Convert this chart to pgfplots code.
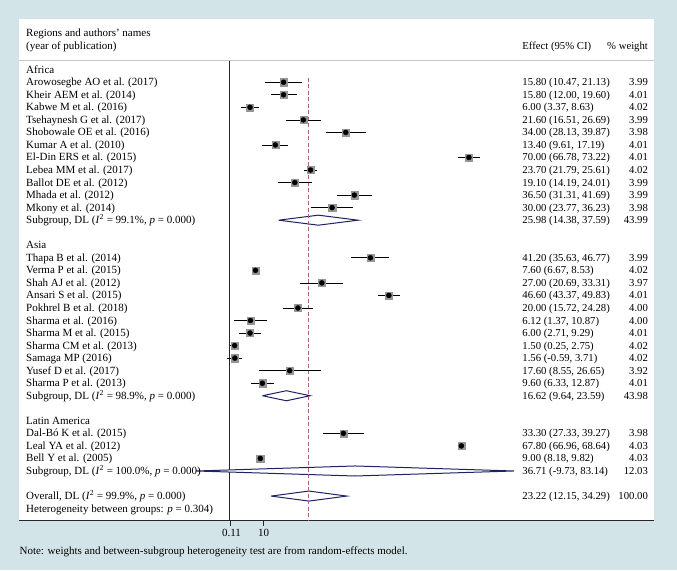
\documentclass[border=0pt]{standalone}
\usepackage{pgfplots}
\usepackage{pgfplotstable}
\pgfplotsset{compat=1.18}
\usepackage{fontspec}
\setmainfont{Liberation Serif}

\definecolor{bgblue}{RGB}{211,228,232}
\definecolor{navy}{RGB}{30,35,100}
\definecolor{dashred}{RGB}{172,100,112}
\definecolor{sqgray}{RGB}{150,150,150}

% row est lo hi
\pgfplotstableread{
row est lo hi
1 15.80 10.47 21.13
2 15.80 12.00 19.60
3 6.00 3.37 8.63
4 21.60 16.51 26.69
5 34.00 28.13 39.87
6 13.40 9.61 17.19
7 70.00 66.78 73.22
8 23.70 21.79 25.61
9 19.10 14.19 24.01
10 36.50 31.31 41.69
11 30.00 23.77 36.23
15 41.20 35.63 46.77
16 7.60 6.67 8.53
17 27.00 20.69 33.31
18 46.60 43.37 49.83
19 20.00 15.72 24.28
20 6.12 1.37 10.87
21 6.00 2.71 9.29
22 1.50 0.25 2.75
23 1.56 -0.59 3.71
24 17.60 8.55 26.65
25 9.60 6.33 12.87
29 33.30 27.33 39.27
30 67.80 66.96 68.64
31 9.00 8.18 9.82
}\studies

\newcommand\study[4]{%
  \node[lab] at (axis cs:-59.5,#1) {#2};
  \node[num] at (axis cs:85.6,#1) {#3};
  \node[wt] at (axis cs:122.4,#1) {#4};}

\begin{document}
\begin{tikzpicture}[
  txt/.style={inner sep=0pt, yshift=-3.5pt, font=\fontsize{11}{13}\selectfont},
  lab/.style={txt, anchor=base west},
  num/.style={txt, anchor=base west, font=\fontsize{10.7}{13}\selectfont},
  wt/.style={txt, anchor=base east, font=\fontsize{10.7}{13}\selectfont},
]
\begin{axis}[
  width=677pt, height=570pt, scale only axis,
  xmin=-67.105, xmax=130.848, ymin=-5.558, ymax=39.896,
  y dir=reverse, hide axis, clip=false,
]
\fill[bgblue] (axis cs:-67.105,-5.558) rectangle (axis cs:130.848,39.896);
\fill[white] (axis cs:-61.43,-4.02) rectangle (axis cs:124.12,35.965);

% header
\node[lab] at (axis cs:-59.5,-2.93) {Regions and authors' names};
\node[lab] at (axis cs:-59.5,-1.91) {(year of publication)};
\node[num] at (axis cs:85.6,-1.91) {Effect (95\% CI)};
\node[wt] at (axis cs:122.4,-1.91) {\% weight};
\draw[black!22, line width=1.6pt] (axis cs:-61.43,-0.718) -- (axis cs:124.12,-0.718);
\draw[black!85, line width=1pt] (axis cs:-61.43,35.965) -- (axis cs:124.12,35.965);
\draw[black!85, line width=0.8pt] (axis cs:0,-0.718) -- (axis cs:0,35.965);

% subgroup and overall diamonds
\addplot[navy, fill=white, line width=1pt] coordinates {(14.38,12) (25.98,11.6) (37.59,12) (25.98,12.4) (14.38,12)};
\addplot[navy, fill=white, line width=1pt] coordinates {(9.64,26) (16.62,25.6) (23.59,26) (16.62,26.4) (9.64,26)};
\addplot[navy, fill=white, line width=1pt] coordinates {(-9.73,32) (36.71,31.6) (83.14,32) (36.71,32.4) (-9.73,32)};
\addplot[navy, fill=white, line width=1pt] coordinates {(12.15,34) (23.22,33.6) (34.29,34) (23.22,34.4) (12.15,34)};

\draw[dashred, line width=1pt, dash pattern=on 4pt off 2.5pt] (axis cs:23.22,0.66) -- (axis cs:23.22,35.965);

% confidence intervals and point estimates
\addplot[only marks, mark=none, error bars/.cd, x dir=both, x explicit, error mark=none,
  error bar style={black, line width=0.7pt}]
  table[x=est, y=row, x error plus expr=\thisrow{hi}-\thisrow{est},
        x error minus expr=\thisrow{est}-\thisrow{lo}] {\studies};
\addplot[only marks, mark=square*, mark size=3.6pt, sqgray] table[x=est, y=row] {\studies};
\addplot[only marks, mark=*, mark size=2.5pt, black] table[x=est, y=row] {\studies};

% text columns
\node[lab] at (axis cs:-59.5,0) {Africa};
\study{1}{Arowosegbe AO et al. (2017)}{15.80 (10.47, 21.13)}{3.99}
\study{2}{Kheir AEM et al. (2014)}{15.80 (12.00, 19.60)}{4.01}
\study{3}{Kabwe M et al. (2016)}{6.00 (3.37, 8.63)}{4.02}
\study{4}{Tsehaynesh G et al. (2017)}{21.60 (16.51, 26.69)}{3.99}
\study{5}{Shobowale OE et al. (2016)}{34.00 (28.13, 39.87)}{3.98}
\study{6}{Kumar A et al. (2010)}{13.40 (9.61, 17.19)}{4.01}
\study{7}{El-Din ERS et al. (2015)}{70.00 (66.78, 73.22)}{4.01}
\study{8}{Lebea MM et al. (2017)}{23.70 (21.79, 25.61)}{4.02}
\study{9}{Ballot DE et al. (2012)}{19.10 (14.19, 24.01)}{3.99}
\study{10}{Mhada et al. (2012)}{36.50 (31.31, 41.69)}{3.99}
\study{11}{Mkony et al. (2014)}{30.00 (23.77, 36.23)}{3.98}
\study{12}{Subgroup, DL (\textit{I}\textsuperscript{2} = 99.1\%, \textit{p} = 0.000)}{25.98 (14.38, 37.59)}{43.99}
\node[lab] at (axis cs:-59.5,14) {Asia};
\study{15}{Thapa B et al. (2014)}{41.20 (35.63, 46.77)}{3.99}
\study{16}{Verma P et al. (2015)}{7.60 (6.67, 8.53)}{4.02}
\study{17}{Shah AJ et al. (2012)}{27.00 (20.69, 33.31)}{3.97}
\study{18}{Ansari S et al. (2015)}{46.60 (43.37, 49.83)}{4.01}
\study{19}{Pokhrel B et al. (2018)}{20.00 (15.72, 24.28)}{4.00}
\study{20}{Sharma et al. (2016)}{6.12 (1.37, 10.87)}{4.00}
\study{21}{Sharma M et al. (2015)}{6.00 (2.71, 9.29)}{4.01}
\study{22}{Sharma CM et al. (2013)}{1.50 (0.25, 2.75)}{4.02}
\study{23}{Samaga MP (2016)}{1.56 (-0.59, 3.71)}{4.02}
\study{24}{Yusef D et al. (2017)}{17.60 (8.55, 26.65)}{3.92}
\study{25}{Sharma P et al. (2013)}{9.60 (6.33, 12.87)}{4.01}
\study{26}{Subgroup, DL (\textit{I}\textsuperscript{2} = 98.9\%, \textit{p} = 0.000)}{16.62 (9.64, 23.59)}{43.98}
\node[lab] at (axis cs:-59.5,28) {Latin America};
\study{29}{Dal-Bó K et al. (2015)}{33.30 (27.33, 39.27)}{3.98}
\study{30}{Leal YA et al. (2012)}{67.80 (66.96, 68.64)}{4.03}
\study{31}{Bell Y et al. (2005)}{9.00 (8.18, 9.82)}{4.03}
\study{32}{Subgroup, DL (\textit{I}\textsuperscript{2} = 100.0\%, \textit{p} = 0.000)}{36.71 (-9.73, 83.14)}{12.03}
\study{34}{Overall, DL (\textit{I}\textsuperscript{2} = 99.9\%, \textit{p} = 0.000)}{23.22 (12.15, 34.29)}{100.00}
\node[lab] at (axis cs:-59.5,35) {Heterogeneity between groups: \textit{p} = 0.304)};

% ticks
\draw[black!85, line width=0.6pt] (axis cs:0.11,35.965) -- (axis cs:0.11,36.35);
\draw[black!85, line width=0.6pt] (axis cs:10,35.965) -- (axis cs:10,36.35);
\node[txt, anchor=base] at (axis cs:0.6,36.95) {0.11};
\node[txt, anchor=base] at (axis cs:10,36.95) {10};

\node[lab] at (axis cs:-61.43,38.38) {Note: weights and between-subgroup heterogeneity test are from random-effects model.};
\end{axis}
\end{tikzpicture}
\end{document}
